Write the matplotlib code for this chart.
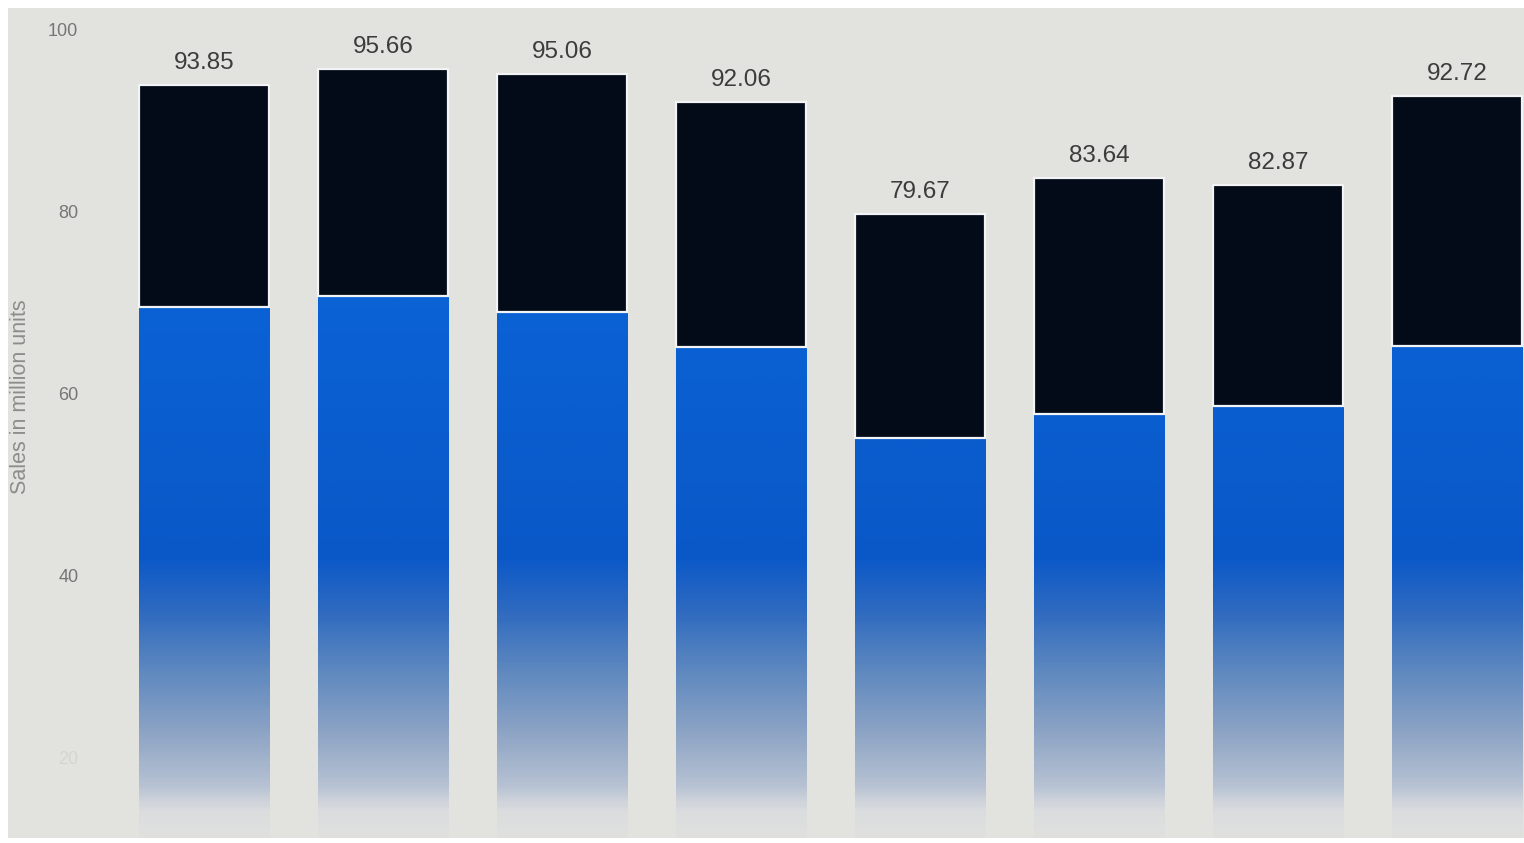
import numpy as np
import matplotlib
matplotlib.use('Agg')
import matplotlib.pyplot as plt
from matplotlib.patches import Rectangle
from matplotlib.colors import LinearSegmentedColormap

plt.rcParams['font.family'] = ['Liberation Sans', 'DejaVu Sans']

# values
totals = [93.85, 95.66, 95.06, 92.06, 79.67, 83.64, 82.87, 92.72]
blue_part = [69.5, 70.7, 68.9, 65.1, 55.1, 57.7, 58.6, 65.2]
dark_part = [t - b for t, b in zip(totals, blue_part)]
y_ticks = [20, 40, 60, 80, 100]

bg = '#e2e2de'
dark = '#040b18'
ylo, yhi = 11.15, 102.36

fig = plt.figure(figsize=(15.24, 8.43), dpi=100)
fig.patch.set_facecolor('white')
fig.add_artist(Rectangle((8 / 1524, 5 / 843), 1 - 8 / 1524, 830 / 843,
                         transform=fig.transFigure, facecolor=bg,
                         edgecolor='none', zorder=-5))

ax = fig.add_axes([88 / 1524, 5 / 843, (1524 - 88) / 1524, 830 / 843])
ax.set_facecolor('none')
x = np.arange(len(totals))
w = 0.73

# blue fading into the background towards the bottom
stops = [(10, bg), (14, '#dadcdf'), (17, '#b4c0d2'), (23, '#8aa2c4'),
         (30, '#5a86bf'), (36, '#2f6ac0'), (42, '#0a58c8'), (75, '#0a64d7')]
cmap = LinearSegmentedColormap.from_list(
    'fade', [((v - 10) / 65, c) for v, c in stops])
grad = np.linspace(ylo, yhi, 400).reshape(-1, 1)

bars_blue = ax.bar(x, blue_part, w, facecolor='none', edgecolor='none',
                   linewidth=0, zorder=3)
for p in bars_blue:
    im = ax.imshow(grad, extent=[p.get_x(), p.get_x() + p.get_width(), ylo, yhi],
                   origin='lower', aspect='auto', cmap=cmap, vmin=10, vmax=75,
                   zorder=2)
    im.set_clip_path(p)

ax.bar(x, dark_part, w, bottom=blue_part, color=dark, edgecolor='#f2f4f6',
       linewidth=1.6, zorder=3)

for xi, t in zip(x, totals):
    ax.annotate(f'{t:.2f}', (xi, t), xytext=(0, 8), textcoords='offset points',
                ha='center', va='bottom', fontsize=17.5, color='#3c3c3c')

ax.set_xlim(-0.648, 7.374)
ax.set_ylim(ylo, yhi)
ax.set_yticks(y_ticks)
ax.set_yticklabels(['20', '40', '60', '80', '100'])
ax.set_xticks([])
ax.tick_params(axis='y', length=0, pad=7, labelsize=13, labelcolor='#767676')
ax.get_yticklabels()[0].set_alpha(0.12)
for s in ax.spines.values():
    s.set_visible(False)
ax.set_ylabel('Sales in million units', fontsize=15.5, color='#8c8c8c')
ax.yaxis.set_label_coords(-0.04, 0.532)

fig.savefig('out.png', dpi=100, facecolor=fig.get_facecolor())
